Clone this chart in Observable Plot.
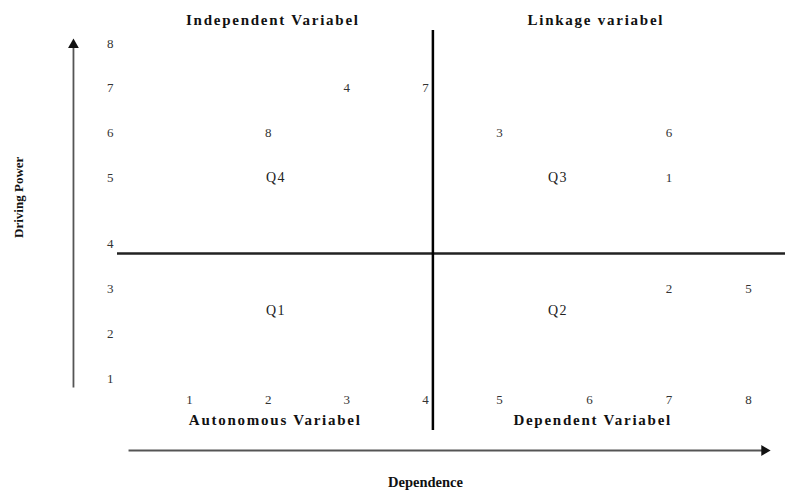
<!DOCTYPE html>
<html>
<head>
<meta charset="utf-8">
<script src="https://cdn.jsdelivr.net/npm/d3@7"></script>
<script src="https://cdn.jsdelivr.net/npm/@observablehq/plot@0.6"></script>
<style>
  body { margin: 0; background: #fff; }
  [aria-label="quadrant titles"], [aria-label="quadrant titles"] text { letter-spacing: 1.75px; }
  [aria-label="quadrant ids"], [aria-label="quadrant ids"] text { letter-spacing: 1.5px; }
</style>
</head>
<body>
<div id="chart"></div>
<script>
// Variables (MICMAC): id, dependence, driving power
const varIds       = ["1", "2", "3", "4", "5", "6", "7", "8"];
const dependence   = [7, 7, 5, 3, 8, 7, 4, 2];
const drivingPower = [5, 3, 6, 7, 3, 6, 7, 6];

// Tick labels
const xTicks = [1, 2, 3, 4, 5, 6, 7, 8];
const yTicks = [1, 2, 3, 4, 5, 6, 7, 8];

// Quadrant dividers (data units as read)
const dividerX = 4.1;
const dividerY = 3.78;

// Quadrant ids
const quadIds = ["Q1", "Q2", "Q3", "Q4"];
const quadX   = [2.1, 5.65, 5.65, 2.1];
const quadY   = [2.5, 2.5, 5, 5];

// Quadrant titles
const topTitles    = ["Independent Variabel", "Linkage variabel"];
const topTitleX    = [2.06, 6.08];
const bottomTitles = ["Autonomous Variabel", "Dependent Variabel"];
const bottomTitleX = [2.09, 6.04];

// Axis arrows (data units)
const arrowX1 = [0.225, -0.475];
const arrowY1 = [-0.6, 0.8];
const arrowX2 = [8.2, -0.475];
const arrowY2 = [-0.6, 7.97];
const arrowRotate = [90, 0];

const vars = varIds.map((id, i) => ({id, dep: dependence[i], drive: drivingPower[i]}));
const quads = quadIds.map((q, i) => ({q, x: quadX[i], y: quadY[i]}));
const tops = topTitles.map((t, i) => ({t, x: topTitleX[i]}));
const bottoms = bottomTitles.map((t, i) => ({t, x: bottomTitleX[i]}));
const arrows = arrowX1.map((x1, i) => ({x1, y1: arrowY1[i], x2: arrowX2[i], y2: arrowY2[i], rotate: arrowRotate[i]}));

const serif = "'Liberation Serif', 'Times New Roman', serif";

const chart = Plot.plot({
  width: 785,
  height: 496,
  marginTop: 30,
  marginBottom: 66,
  marginLeft: 117,
  marginRight: 0,
  style: {fontFamily: serif, fontSize: "13px", background: "#fff", color: "#333"},
  x: {type: "linear", domain: [1, 4, 5, 6, 8], range: [189, 425, 499, 589, 748]},
  y: {type: "linear", domain: [1, 4, 5, 8], range: [378, 243, 177, 43]},
  marks: [
    Plot.axisY(yTicks, {tickSize: 0, tickPadding: 4, label: null, fill: "#333", fontSize: 13}),
    Plot.axisX(xTicks, {tickSize: 0, tickPadding: 3, dy: -39, label: null, fill: "#333", fontSize: 13}),
    Plot.ruleY([dividerY], {stroke: "#222", strokeWidth: 2.5}),
    Plot.ruleX([dividerX], {stroke: "#000", strokeWidth: 2.5}),
    Plot.link(arrows, {x1: "x1", y1: "y1", x2: "x2", y2: "y2", stroke: "#555", strokeWidth: 1.8}),
    Plot.dot(arrows, {x: "x2", y: "y2", rotate: "rotate", symbol: "triangle", r: 4, fill: "#111", stroke: "none"}),
    Plot.text(vars, {x: "dep", y: "drive", text: "id", fill: "#333", fontSize: 13}),
    Plot.text(quads, {x: "x", y: "y", text: "q", fill: "#222", fontSize: 14, ariaLabel: () => "quadrant ids"}),
    Plot.text(tops, {x: "x", text: "t", frameAnchor: "top", lineAnchor: "middle", dy: -10,
      fontWeight: "bold", fontSize: 15, fill: "#111", ariaLabel: () => "quadrant titles"}),
    Plot.text(bottoms, {x: "x", text: "t", frameAnchor: "bottom", lineAnchor: "middle", dy: -10,
      fontWeight: "bold", fontSize: 15, fill: "#111", ariaLabel: () => "quadrant titles"}),
    Plot.text(["Driving Power"], {frameAnchor: "left", textAnchor: "middle", y: 4.7, dx: -99, rotate: -90,
      fontWeight: "bold", fontSize: 13, fill: "#111"}),
    Plot.text(["Dependence"], {frameAnchor: "bottom", x: 4, dy: 56,
      fontWeight: "bold", fontSize: 14.5, fill: "#111"})
  ]
});
document.getElementById("chart").appendChild(chart);
</script>
</body>
</html>
